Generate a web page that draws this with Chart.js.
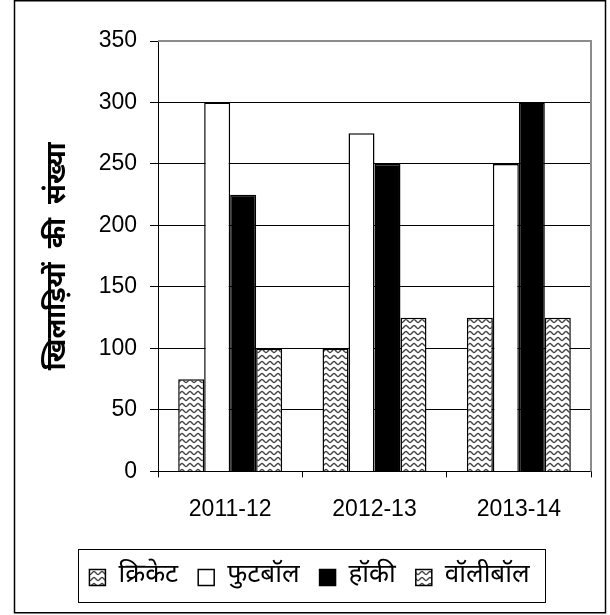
<!DOCTYPE html>
<html>
<head>
<meta charset="utf-8">
<script src="https://cdn.jsdelivr.net/npm/chart.js@4"></script>
<style>
  html, body { margin: 0; padding: 0; background: #fff; }
  #wrap { width: 610px; height: 615px; position: relative; }
</style>
</head>
<body>
<div id="wrap"><canvas id="c"></canvas></div>
<script>
const categories = ['2011-12', '2012-13', '2013-14'];
const seriesNames = ['क्रिकेट', 'फुटबॉल', 'हॉकी', 'वॉलीबॉल'];
const cricket = [75, 100, 125];
const football = [300, 275, 250];
const hockey = [225, 250, 300];
const volleyball = [100, 125, 125];
const yTicks = [0, 50, 100, 150, 200, 250, 300, 350];
const yTitle = 'खिलाड़ियों  की  संख्या';

const DEVA = "'Noto Sans Devanagari', 'Lohit Devanagari', 'Noto Sans', 'Mangal', sans-serif";
const LAT = "'Liberation Sans', Arial, sans-serif";

function wavePattern() {
  const c = document.createElement('canvas');
  c.width = 8; c.height = 6;
  const g = c.getContext('2d');
  g.fillStyle = '#fff';
  g.fillRect(0, 0, 8, 6);
  g.strokeStyle = '#444';
  g.lineWidth = 1.4;
  g.beginPath();
  for (let x = -1; x <= 9; x += 0.5) {
    const y = 3 + 1.5 * Math.sin(2 * Math.PI * x / 8);
    if (x === -1) g.moveTo(x, y); else g.lineTo(x, y);
  }
  g.stroke();
  return g.createPattern(c, 'repeat');
}
const pat = wavePattern();

const framePlugin = {
  id: 'frame',
  afterLayout(chart) {
    const lg = chart.legend;
    if (lg) { lg.left += 7; lg.right += 7; }
  },
  afterDraw(chart) {
    const ctx = chart.ctx;
    const a = chart.chartArea;
    ctx.save();
    ctx.strokeStyle = '#8c8c8c';
    ctx.lineWidth = 2;
    ctx.beginPath();
    ctx.moveTo(a.left, a.top);
    ctx.lineTo(a.right, a.top);
    ctx.lineTo(a.right, a.bottom);
    ctx.stroke();
    // outer frame
    ctx.strokeStyle = '#000';
    ctx.lineWidth = 1.5;
    ctx.strokeRect(14.5, 0.75, 591, 612);
    // legend box
    const hb = chart.legend.legendHitBoxes;
    if (hb && hb.length) {
      const f = hb[0], l = hb[hb.length - 1];
      ctx.lineWidth = 1;
      ctx.strokeRect(Math.round(f.left - 11) + 0.5, 549.5,
        Math.round(l.left + l.width + 16 - (f.left - 11)), 53);
    }
    ctx.restore();
  }
};

new Chart(document.getElementById('c'), {
  type: 'bar',
  data: {
    labels: categories,
    datasets: [
      { label: seriesNames[0], data: cricket, backgroundColor: pat, borderColor: '#000', borderWidth: 1.5 },
      { label: seriesNames[1], data: football, backgroundColor: '#fff', borderColor: '#000', borderWidth: 1.5 },
      { label: seriesNames[2], data: hockey, backgroundColor: '#000', borderColor: '#000', borderWidth: 1.5 },
      { label: seriesNames[3], data: volleyball, backgroundColor: pat, borderColor: '#000', borderWidth: 1.5 }
    ]
  },
  options: {
    responsive: true,
    maintainAspectRatio: false,
    animation: false,
    datasets: { bar: { barPercentage: 1.0, categoryPercentage: 0.72 } },
    layout: { padding: { left: 14, right: 19, top: 41, bottom: 14.6 } },
    plugins: {
      tooltip: { enabled: false },
      legend: {
        position: 'bottom',
        labels: {
          color: '#000',
          font: { family: DEVA, size: 26 },
          boxWidth: 16,
          boxHeight: 16,
          padding: 20
        }
      }
    },
    scales: {
      x: {
        afterFit(s) { s.height = 73; },
        grid: { drawOnChartArea: false, color: '#000', tickLength: 6, offset: true },
        border: { color: '#000', width: 1 },
        ticks: { color: '#000', font: { family: LAT, size: 23 }, padding: 18, maxRotation: 0 }
      },
      y: {
        min: 0, max: 350,
        afterFit(s) { s.width = 144; },
        afterBuildTicks(s) { s.ticks = yTicks.map(v => ({ value: v })); },
        grid: { color: '#000', lineWidth: 1, tickLength: 8 },
        border: { color: '#000', width: 1 },
        ticks: { color: '#000', font: { family: LAT, size: 23 }, padding: 13 },
        title: {
          display: true,
          text: yTitle,
          color: '#000',
          font: { family: DEVA, size: 27, weight: 'bold' },
          padding: { top: 30, bottom: 0 }
        }
      }
    }
  },
  plugins: [framePlugin]
});
</script>
</body>
</html>
